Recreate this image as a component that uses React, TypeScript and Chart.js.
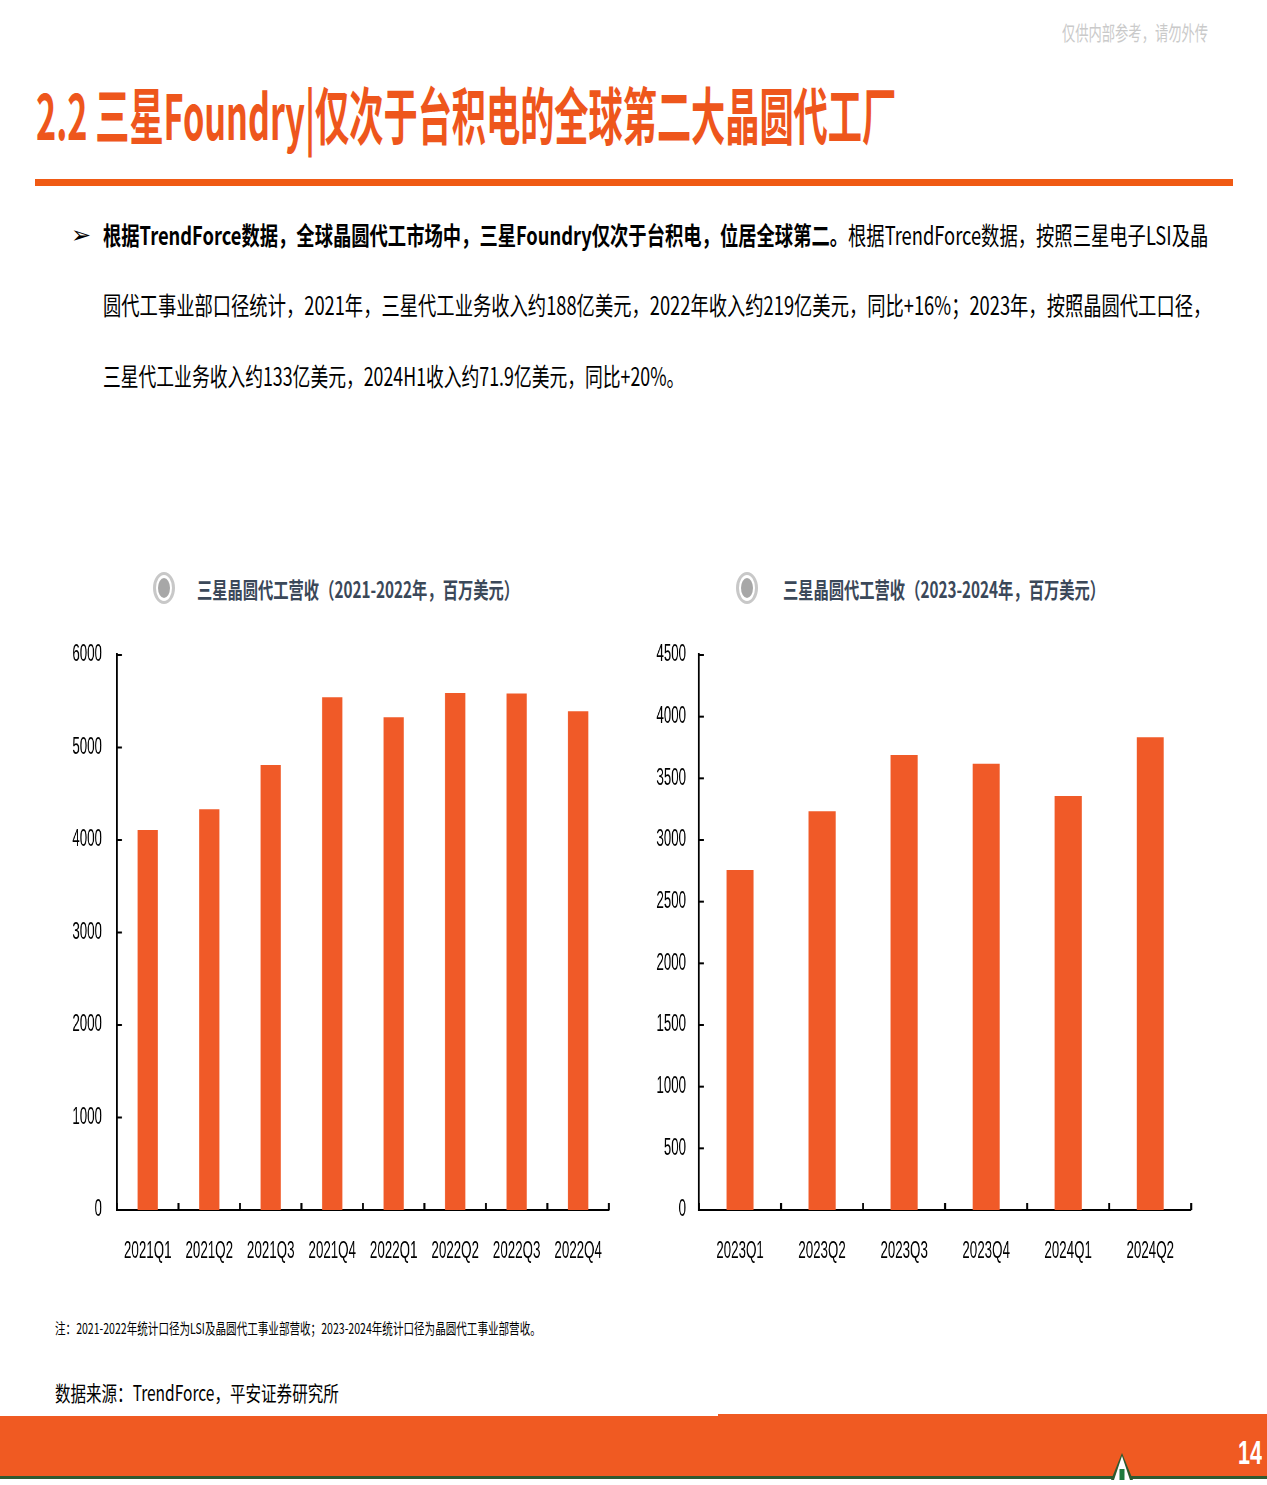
import React, { useEffect, useLayoutEffect, useRef } from 'react';
import { Chart, registerables } from 'chart.js';

Chart.register(...registerables);

// ---------- data ----------
const chart1Categories = ['2021Q1', '2021Q2', '2021Q3', '2021Q4', '2022Q1', '2022Q2', '2022Q3', '2022Q4'];
const chart1Revenue = [4108, 4333, 4810, 5544, 5328, 5588, 5584, 5391];
const chart1YMax = 6000;
const chart1YStep = 1000;

const chart2Categories = ['2023Q1', '2023Q2', '2023Q3', '2023Q4', '2024Q1', '2024Q2'];
const chart2Revenue = [2757, 3234, 3690, 3619, 3357, 3833];
const chart2YMax = 4500;
const chart2YStep = 500;

// ---------- style ----------
const SQUEEZE = 0.58;
const BAR_COLOR = '#F05A28';
const ORANGE = '#EE561C';
const CJK = "'Noto Sans CJK SC', 'Noto Sans', sans-serif";
const TICK_FONT = "'Liberation Sans Narrow', 'Arial Narrow', 'Liberation Sans', Arial, sans-serif";
const TICK_SIZE = 23;

type FitProps = {
  x: number;
  y: number;
  w: number;
  size: number;
  lineH?: number;
  weight?: number;
  color?: string;
  family?: string;
  children: React.ReactNode;
};

function FitText({ x, y, w, size, lineH, weight = 400, color = '#000', family = CJK, children }: FitProps) {
  const ref = useRef<HTMLSpanElement>(null);
  const lh = lineH ?? Math.round(size * 1.3);
  useLayoutEffect(() => {
    const el = ref.current;
    if (!el) return;
    const fit = () => {
      el.style.transform = 'none';
      const nat = el.offsetWidth;
      if (nat > 0) el.style.transform = `scaleX(${w / nat})`;
    };
    fit();
    const fonts = (document as any).fonts;
    if (fonts && fonts.ready) fonts.ready.then(fit);
  }, [w]);
  return (
    <span
      ref={ref}
      style={{
        position: 'absolute',
        left: x,
        top: y - lh / 2,
        height: lh,
        lineHeight: `${lh}px`,
        fontSize: size,
        fontWeight: weight,
        color,
        fontFamily: family,
        whiteSpace: 'nowrap',
        transformOrigin: '0 50%',
        display: 'inline-block',
      }}
    >
      {children}
    </span>
  );
}

type BarProps = {
  labels: string[];
  values: number[];
  yMax: number;
  yStep: number;
  left: number;
  top: number;
  width: number;
  height: number;
  axisX: number;
  plotRight: number;
  plotTop: number;
  plotBottom: number;
  yLabelGap: number;
};

function BarChart(p: BarProps) {
  const ref = useRef<HTMLCanvasElement>(null);
  const s = SQUEEZE;
  const innerW = Math.round(p.width / s);
  useEffect(() => {
    const yAxisW = (p.axisX - p.left) / s;
    const padRight = (p.left + p.width - p.plotRight) / s;
    const padTop = p.plotTop - p.top;
    const xAxisH = p.top + p.height - p.plotBottom;

    const tickMarks = {
      id: 'tickMarks',
      afterDraw(chart: any) {
        const { ctx } = chart;
        const xs = chart.scales.x;
        const ys = chart.scales.y;
        ctx.save();
        ctx.strokeStyle = '#000';
        ctx.lineWidth = 2;
        ys.ticks.forEach((_t: any, i: number) => {
          const py = ys.getPixelForTick(i);
          ctx.beginPath();
          ctx.moveTo(xs.left, py);
          ctx.lineTo(xs.left + 5 / s, py);
          ctx.stroke();
        });
        ctx.lineWidth = 2 / s;
        const n = xs.ticks.length;
        for (let i = 0; i <= n; i++) {
          const px = xs.left + ((xs.right - xs.left) * i) / n;
          ctx.beginPath();
          ctx.moveTo(px, ys.bottom);
          ctx.lineTo(px, ys.bottom - 7);
          ctx.stroke();
        }
        ctx.restore();
      },
    };

    const chart = new Chart(ref.current as HTMLCanvasElement, {
      type: 'bar',
      data: {
        labels: p.labels,
        datasets: [
          {
            data: p.values,
            backgroundColor: BAR_COLOR,
            borderWidth: 0,
            barPercentage: 0.33,
            categoryPercentage: 1,
          },
        ],
      },
      options: {
        animation: false,
        responsive: false,
        maintainAspectRatio: false,
        layout: { padding: { top: padTop, right: padRight, left: 0, bottom: 0 } },
        plugins: { legend: { display: false }, tooltip: { enabled: false } },
        scales: {
          x: {
            grid: { display: false, drawTicks: false },
            border: { display: true, color: '#000', width: 2 },
            ticks: {
              color: '#000',
              font: { family: TICK_FONT, size: TICK_SIZE },
              padding: 28,
              autoSkip: false,
              maxRotation: 0,
              minRotation: 0,
            },
            afterFit(sc: any) {
              sc.height = xAxisH;
              sc.paddingLeft = 0;
              sc.paddingRight = 0;
            },
          },
          y: {
            min: 0,
            max: p.yMax,
            grid: { display: false, drawTicks: false },
            border: { display: true, color: '#000', width: 2 / s },
            ticks: {
              stepSize: p.yStep,
              color: '#000',
              font: { family: TICK_FONT, size: TICK_SIZE },
              padding: p.yLabelGap / s,
              callback: (v: any) => String(v),
            },
            afterFit(sc: any) {
              sc.width = yAxisW;
              sc.paddingTop = 0;
              sc.paddingBottom = 0;
            },
          },
        },
      } as any,
      plugins: [tickMarks],
    });
    return () => chart.destroy();
  }, []);
  return (
    <div
      style={{
        position: 'absolute',
        left: p.left,
        top: p.top,
        width: innerW,
        height: p.height,
        transform: `scaleX(${s})`,
        transformOrigin: '0 0',
      }}
    >
      <canvas ref={ref} width={innerW} height={p.height} style={{ display: 'block' }} />
    </div>
  );
}

function TitleIcon({ cx, cy }: { cx: number; cy: number }) {
  return (
    <>
      <div
        style={{
          position: 'absolute',
          left: cx - 11,
          top: cy - 16,
          width: 22,
          height: 32,
          borderRadius: '50%',
          border: '3px solid #C8C8C8',
          boxSizing: 'border-box',
        }}
      />
      <div
        style={{
          position: 'absolute',
          left: cx - 6,
          top: cy - 10,
          width: 12,
          height: 20,
          borderRadius: '50%',
          background: '#A7A7A7',
        }}
      />
    </>
  );
}

export default function App() {
  return (
    <div
      style={{
        position: 'absolute',
        left: 0,
        top: 0,
        width: 1267,
        height: 1485,
        background: '#fff',
        overflow: 'hidden',
        fontFamily: CJK,
      }}
    >
      {/* watermark */}
      <FitText x={1062} y={33} w={146} size={20} color="#CACACA">
        仅供内部参考，请勿外传
      </FitText>

      {/* title */}
      <FitText x={36} y={113} w={860} size={62} weight={700} color={ORANGE} lineH={74}>
        2.2 三星Foundry|仅次于台积电的全球第二大晶圆代工厂
      </FitText>
      <div style={{ position: 'absolute', left: 35, top: 179, width: 1198, height: 7, background: '#F05A14' }} />

      {/* bullet */}
      <span
        style={{
          position: 'absolute',
          left: 71,
          top: 219,
          fontSize: 24,
          lineHeight: '32px',
          fontFamily: "'DejaVu Sans', sans-serif",
          color: '#000',
        }}
      >
        ➢
      </span>
      <FitText x={103} y={234} w={1105} size={25}>
        <b>根据TrendForce数据，全球晶圆代工市场中，三星Foundry仅次于台积电，位居全球第二。</b>
        根据TrendForce数据，按照三星电子LSI及晶
      </FitText>
      <FitText x={103} y={304} w={1108} size={25}>
        圆代工事业部口径统计，2021年，三星代工业务收入约188亿美元，2022年收入约219亿美元，同比+16%；2023年，按照晶圆代工口径，
      </FitText>
      <FitText x={103} y={375} w={581} size={25}>
        三星代工业务收入约133亿美元，2024H1收入约71.9亿美元，同比+20%。
      </FitText>

      {/* chart titles */}
      <TitleIcon cx={164} cy={588} />
      <FitText x={197} y={588} w={322} size={22} weight={700} color="#3B4859">
        三星晶圆代工营收（2021-2022年，百万美元）
      </FitText>
      <TitleIcon cx={747} cy={588} />
      <FitText x={783} y={588} w={322} size={22} weight={700} color="#3B4859">
        三星晶圆代工营收（2023-2024年，百万美元）
      </FitText>

      {/* charts */}
      <BarChart
        labels={chart1Categories}
        values={chart1Revenue}
        yMax={chart1YMax}
        yStep={chart1YStep}
        left={30}
        top={630}
        width={590}
        height={680}
        axisX={117}
        plotRight={609}
        plotTop={655}
        plotBottom={1210}
        yLabelGap={15}
      />
      <BarChart
        labels={chart2Categories}
        values={chart2Revenue}
        yMax={chart2YMax}
        yStep={chart2YStep}
        left={620}
        top={630}
        width={585}
        height={680}
        axisX={699}
        plotRight={1191}
        plotTop={655}
        plotBottom={1210}
        yLabelGap={13}
      />

      {/* notes */}
      <FitText x={55} y={1328} w={486} size={15}>
        注：2021-2022年统计口径为LSI及晶圆代工事业部营收；2023-2024年统计口径为晶圆代工事业部营收。
      </FitText>
      <FitText x={55} y={1392} w={284} size={21}>
        数据来源：TrendForce，平安证券研究所
      </FitText>

      {/* footer */}
      <div style={{ position: 'absolute', left: 0, top: 1416, width: 718, height: 60, background: '#F05A22' }} />
      <div style={{ position: 'absolute', left: 718, top: 1414, width: 549, height: 62, background: '#F05A22' }} />
      <div style={{ position: 'absolute', left: 0, top: 1476, width: 1267, height: 3, background: '#2F5A30' }} />
      <svg style={{ position: 'absolute', left: 1110, top: 1453, width: 24, height: 27 }} viewBox="0 0 24 27">
        <polygon points="12,0 23,27 1,27" fill="#2F5A30" />
        <polygon points="12,3 20,27 4,27" fill="#fff" />
        <rect x="9.5" y="16" width="5" height="11" fill="#1F7A3E" />
      </svg>
      <FitText x={1238} y={1452} w={24} size={34} weight={700} color="#fff" family={TICK_FONT}>
        14
      </FitText>
    </div>
  );
}
